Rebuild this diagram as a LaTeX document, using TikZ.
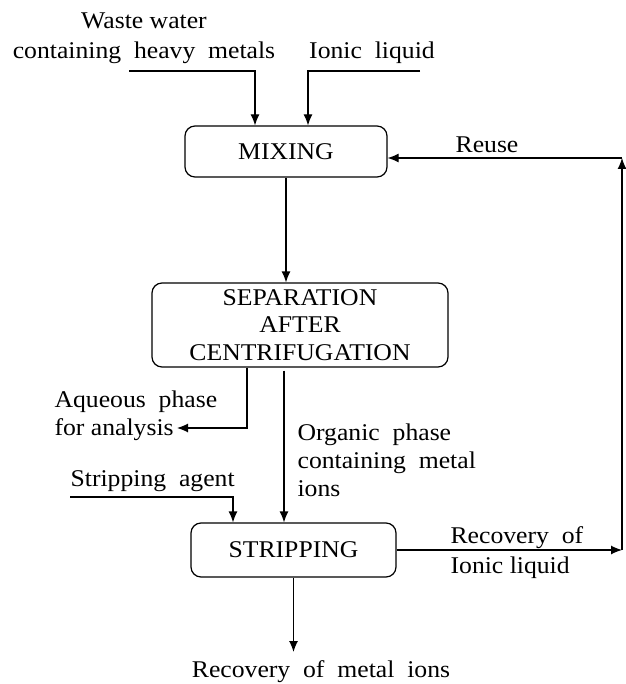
\documentclass[tikz,border=0pt]{standalone}
\usepackage{fontspec}
\setmainfont{Liberation Serif}[FakeStretch=1.07]
\usetikzlibrary{calc}
\usetikzlibrary{positioning}
\usetikzlibrary{arrows.meta}

\begin{document}
\begin{tikzpicture}[x=1pt, y=-1pt, line width=1.2pt, >={Latex[length=11pt,width=9pt]},
    box/.style={draw, rounded corners=10pt, align=center, inner sep=0pt, font=\fontsize{24}{27.5}\selectfont},
    label/.style={inner sep=1pt, font=\fontsize{24}{28}\selectfont}]

    \useasboundingbox (0,0) rectangle (625,684);

    % Process steps
    \node [box, minimum width=202pt, minimum height=51pt] (mixing) at (286,151.5) {MIXING};
    \node [box, minimum width=296pt, minimum height=84pt] (separation) at (300,325) {SEPARATION\\AFTER\\CENTRIFUGATION};
    \node [box, minimum width=205pt, minimum height=54pt] (stripping) at (293.5,550) {STRIPPING};

    % Texts
    \node [label, align=center, font=\fontsize{24}{30}\selectfont] (wastewater) at (144,38) {Waste water\\containing\ \ heavy\ \ metals};
    \node [label] (ionic) at (372,53) {Ionic\ \ liquid};
    \node [label] (reuse) at (487,145) {Reuse};
    \node [label, align=left, anchor=west] (aqueous) at (53,416) {Aqueous\ \ phase\\for\ analysis};
    \node [label, align=left, anchor=west] (organic) at (296,460) {Organic\ \ phase\\containing\ \ metal\\ions};
    \node [label, anchor=west] (agent) at (69,481) {Stripping\ \ agent};
    \node [label, align=left, anchor=west, font=\fontsize{24}{30}\selectfont] (recionic) at (449,553) {Recovery\ \ of\\Ionic\ liquid};
    \node [label] (recmetal) at (321,672) {Recovery\ \ of\ \ metal\ \ ions};

    % Feeds
    \coordinate (wwstart) at (129,71);
    \coordinate (wwend) at (255,71);
    \draw [->] (wwstart) -- (wwend) -- (wwend |- mixing.north);

    \coordinate (ilstart) at (420,71);
    \coordinate (ilend) at (308,71);
    \draw [->] (ilstart) -- (ilend) -- (ilend |- mixing.north);

    \draw [->] (mixing.south) -- (mixing.south |- separation.north);

    % Phases after separation
    \coordinate (aqtop) at ($(separation.south)+(-53,0)$);
    \coordinate (aqend) at (177,428);
    \draw [->] (aqtop) -- (aqtop |- aqend) -- (aqend);

    \coordinate (orgtop) at ($(separation.south)+(-16,3)$);
    \draw [->] (orgtop) -- (orgtop |- stripping.north);

    \coordinate (sastart) at (70,497);
    \coordinate (saend) at (233,497);
    \draw [->] (sastart) -- (saend) -- (saend |- stripping.north);

    % Recovery and reuse
    \coordinate (rbot) at (622,550);
    \coordinate (rtop) at (622,158);
    \draw [->] (stripping.east) -- (rbot);
    \draw [->] (rbot) -- (rtop);
    \draw [->] (rtop) -- (rtop -| mixing.east);

    \draw [->] (stripping.south) -- (stripping.south |- 0,652);

\end{tikzpicture}
\end{document}
